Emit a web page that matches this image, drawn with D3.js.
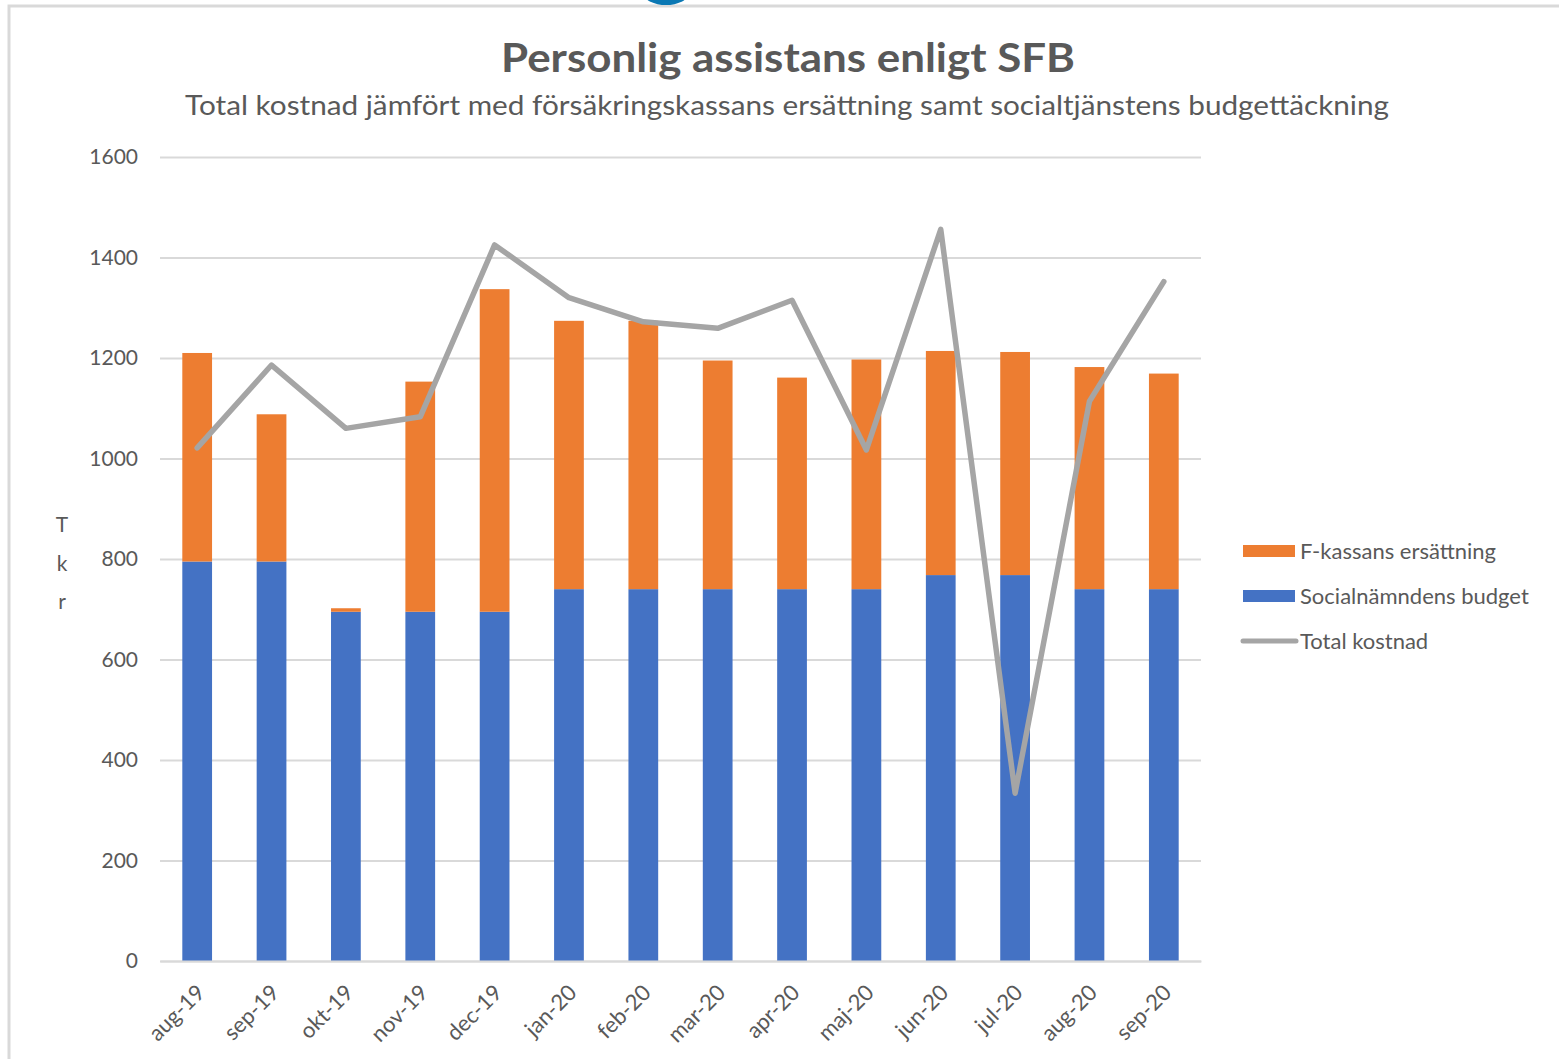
<!DOCTYPE html>
<html>
<head>
<meta charset="utf-8">
<script src="https://cdn.jsdelivr.net/npm/d3@7"></script>
<style>
    html, body { margin: 0; padding: 0; background: #ffffff; }
    svg { display: block; }
</style>
</head>
<body>
<div id="chart"></div>
<script>
var months = ['aug-19', 'sep-19', 'okt-19', 'nov-19', 'dec-19', 'jan-20', 'feb-20',
    'mar-20', 'apr-20', 'maj-20', 'jun-20', 'jul-20', 'aug-20', 'sep-20'];
var budget = [795, 795, 695, 695, 695, 740, 740, 740, 740, 740, 768, 768, 740, 740];
var fkassa = [415, 293, 7, 458, 642, 534, 534, 455, 421, 457, 446, 444, 442, 429];
var total = [1021, 1186, 1060, 1083, 1425, 1320, 1272, 1259, 1315, 1017, 1456, 334, 1114, 1352];
var yTicks = [0, 200, 400, 600, 800, 1000, 1200, 1400, 1600];
var legendLabels = ['F-kassans ersättning', 'Socialnämndens budget', 'Total kostnad'];

(function(d3) {
    'use strict';
    var width = 1559;
    var height = 1059;
    var textColor = '#595959';
    var font = 'Lato, "Open Sans", sans-serif';
    var colors = { budget: '#4472c4', fkassa: '#ed7d31', total: '#a5a5a5' };

    var svg = d3.select('#chart').append('svg')
        .attr('width', width)
        .attr('height', height)
        .style('font-family', font);

    // outer frame + the blue knob peeking in at the top
    svg.append('path')
        .attr('d', 'M9,' + height + ' V6 H' + width)
        .attr('fill', 'none')
        .attr('stroke', '#d9d9d9')
        .attr('stroke-width', 3);
    svg.append('ellipse')
        .attr('cx', 666).attr('cy', -6)
        .attr('rx', 22).attr('ry', 11)
        .attr('fill', '#0a78b4');

    var x = d3.scaleBand()
        .domain(months)
        .range([160, 1201])
        .paddingInner(0.6)
        .paddingOuter(0.3);
    var y = d3.scaleLinear()
        .domain([0, 1600])
        .range([961, 157]);

    // titles
    svg.append('text')
        .attr('x', 788).attr('y', 72)
        .attr('text-anchor', 'middle')
        .attr('fill', textColor)
        .attr('font-size', 40)
        .attr('font-weight', 700)
        .attr('textLength', 574)
        .attr('lengthAdjust', 'spacingAndGlyphs')
        .text('Personlig assistans enligt SFB');
    svg.append('text')
        .attr('x', 787).attr('y', 115)
        .attr('text-anchor', 'middle')
        .attr('fill', textColor)
        .attr('font-size', 26)
        .attr('textLength', 1204)
        .attr('lengthAdjust', 'spacingAndGlyphs')
        .text('Total kostnad jämfört med försäkringskassans ersättning samt socialtjänstens budgettäckning');

    // gridlines + y labels
    var yAxis = d3.axisLeft(y)
        .tickValues(yTicks)
        .tickSize(-(1201 - 160))
        .tickPadding(22)
        .tickFormat(d3.format('d'));
    var gy = svg.append('g')
        .attr('transform', 'translate(160,0)')
        .call(yAxis);
    gy.select('.domain').remove();
    gy.selectAll('.tick line')
        .attr('stroke', '#d9d9d9')
        .attr('stroke-width', 2);
    gy.selectAll('.tick text')
        .attr('fill', textColor)
        .attr('font-size', 21)
        .attr('font-family', font);

    // stacked bars
    var rows = months.map(function(m, i) {
        return { month: m, budget: budget[i], fkassa: fkassa[i] };
    });
    var series = d3.stack().keys(['budget', 'fkassa'])(rows);
    svg.append('g').selectAll('g')
        .data(series)
        .join('g')
        .attr('fill', function(s) { return colors[s.key]; })
        .selectAll('rect')
        .data(function(s) { return s; })
        .join('rect')
        .attr('x', function(d) { return x(d.data.month); })
        .attr('width', x.bandwidth())
        .attr('y', function(d) { return y(d[1]); })
        .attr('height', function(d) { return y(d[0]) - y(d[1]); });

    // x axis baseline + rotated labels
    var xAxis = d3.axisBottom(x).tickSize(0).tickPadding(0);
    var gx = svg.append('g')
        .attr('transform', 'translate(0,' + y(0) + ')')
        .call(xAxis);
    gx.select('.domain')
        .attr('stroke', '#d9d9d9')
        .attr('stroke-width', 2);
    gx.selectAll('.tick text')
        .attr('fill', textColor)
        .attr('font-size', 22)
        .attr('font-family', font)
        .attr('text-anchor', 'end')
        .attr('dy', null)
        .attr('transform', 'translate(9,33) rotate(-45)');

    // total line
    var line = d3.line()
        .x(function(d, i) { return x(months[i]) + x.bandwidth() / 2; })
        .y(function(d) { return y(d); });
    svg.append('path')
        .datum(total)
        .attr('d', line)
        .attr('fill', 'none')
        .attr('stroke', colors.total)
        .attr('stroke-width', 5.5)
        .attr('stroke-linejoin', 'round')
        .attr('stroke-linecap', 'round');

    // y axis title, stacked letters
    svg.append('g').selectAll('text')
        .data(['T', 'k', 'r'])
        .join('text')
        .attr('x', 62)
        .attr('y', function(d, i) { return 532 + i * 38.5; })
        .attr('text-anchor', 'middle')
        .attr('fill', textColor)
        .attr('font-size', 21)
        .text(function(d) { return d; });

    // legend
    var legend = svg.append('g').attr('transform', 'translate(1243,551)');
    var item = legend.selectAll('g')
        .data(legendLabels)
        .join('g')
        .attr('transform', function(d, i) { return 'translate(0,' + i * 45 + ')'; });
    item.filter(function(d, i) { return i < 2; })
        .append('rect')
        .attr('x', 0).attr('y', -6)
        .attr('width', 52).attr('height', 12)
        .attr('fill', function(d, i) { return i === 0 ? colors.fkassa : colors.budget; });
    item.filter(function(d, i) { return i === 2; })
        .append('line')
        .attr('x1', 0).attr('x2', 53)
        .attr('stroke', colors.total)
        .attr('stroke-width', 5)
        .attr('stroke-linecap', 'round');
    item.append('text')
        .attr('x', 57)
        .attr('dy', '0.35em')
        .attr('fill', textColor)
        .attr('font-size', 22)
        .text(function(d) { return d; });
})(d3);
</script>
</body>
</html>
